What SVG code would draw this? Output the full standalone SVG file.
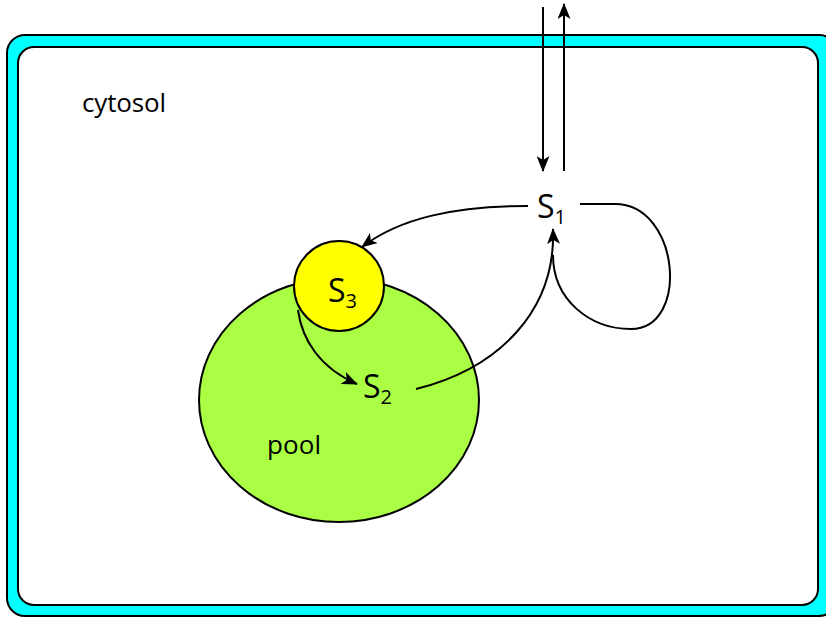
<svg xmlns="http://www.w3.org/2000/svg" width="826" height="617" viewBox="0 0 826 617">
<defs>
<marker id="ah" viewBox="0 0 16 13" refX="15" refY="6.5" markerWidth="16" markerHeight="13" markerUnits="userSpaceOnUse" orient="auto"><path d="M0,0 L16,6.5 L0,13 L4,6.5 Z" fill="#000"/></marker>
<style>
.t{font-family:"Open Sans","Liberation Sans",sans-serif;fill:#000}
.c{fill:none;stroke:#000;stroke-width:2}
</style>
</defs>
<rect width="826" height="617" fill="#fff"/>
<g id="cell">
<rect x="7" y="35" width="830" height="581" rx="18" fill="#00ffff" stroke="#000" stroke-width="2"/>
<rect x="18" y="47" width="800" height="558" rx="16" fill="#fff" stroke="#000" stroke-width="2"/>
<text class="t" x="82" y="112" font-size="26" textLength="84">cytosol</text>
</g>
<g id="pool">
<ellipse cx="339" cy="400" rx="140" ry="122" fill="#aaff44" stroke="#000" stroke-width="2"/>
<text class="t" x="267" y="454" font-size="26" textLength="54">pool</text>
</g>
<g id="S3">
<circle cx="339" cy="286" r="45" fill="#ffff00" stroke="#000" stroke-width="2"/>
<text class="t" x="328" y="302" font-size="32">S<tspan font-size="20" dy="6">3</tspan></text>
</g>
<g id="S2">
<text class="t" x="363" y="398" font-size="32">S<tspan font-size="20" dy="6">2</tspan></text>
</g>
<g id="S1">
<text class="t" x="537" y="218" font-size="32">S<tspan font-size="20" dy="6">1</tspan></text>
</g>
<g id="connectors">
<line class="c" x1="543" y1="7" x2="543" y2="171" marker-end="url(#ah)"/>
<line class="c" x1="564" y1="171" x2="564" y2="4" marker-end="url(#ah)"/>
<path class="c" d="M528,206 C455,206 400,218 362,247" marker-end="url(#ah)"/>
<path class="c" d="M298,310 C302,340 320,368 357,384" marker-end="url(#ah)"/>
<path class="c" d="M416,389 C500,368 556,310 553,229" marker-end="url(#ah)"/>
<path class="c" d="M580,204 L615,204 C680,204 690,329 631,329 C590,329 553,300 553,255"/>
</g>
</svg>
